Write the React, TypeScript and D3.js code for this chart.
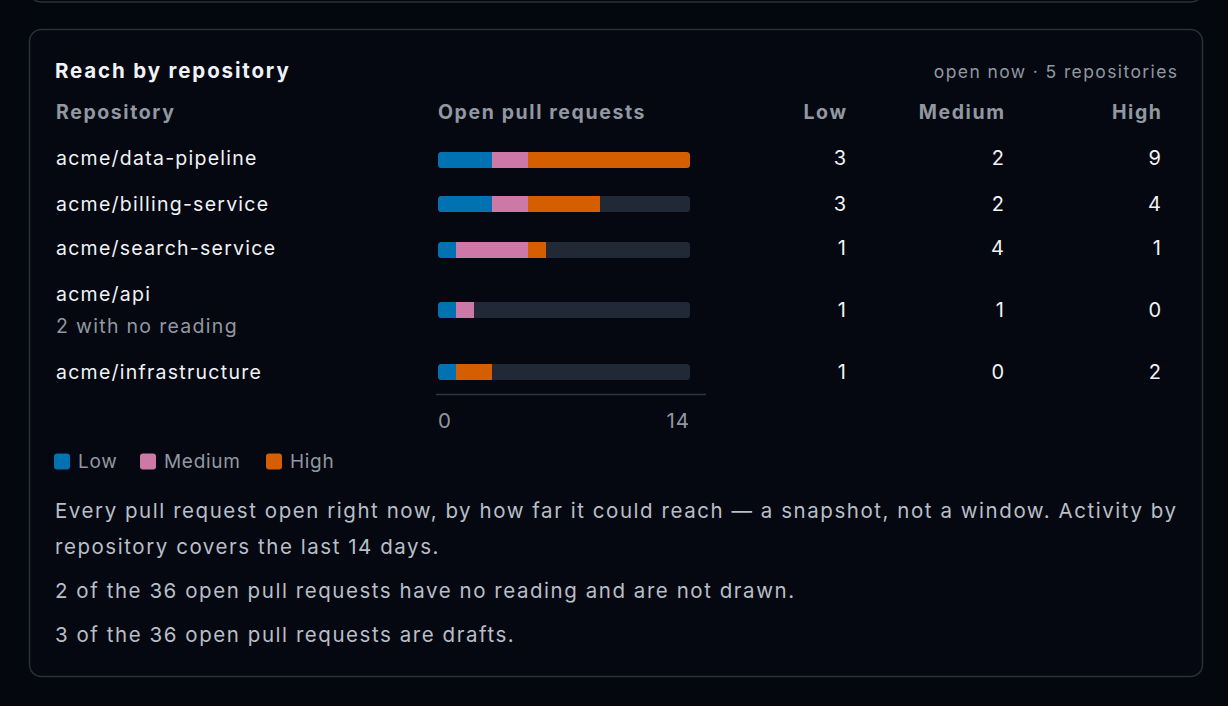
import React from "react";
import * as d3 from "d3";

const repos = ["acme/data-pipeline", "acme/billing-service", "acme/search-service", "acme/api", "acme/infrastructure"];
const notes = ["", "", "", "2 with no reading", ""];
const lowCounts = [3, 3, 1, 1, 1];
const mediumCounts = [2, 2, 4, 1, 0];
const highCounts = [9, 4, 1, 0, 2];
const levels = ["Low", "Medium", "High"];
const levelColors = ["#0072b2", "#cc79a7", "#d55e00"];
const axisTicks = [0, 14];
const paragraphs = [
  ["Every pull request open right now, by how far it could reach — a snapshot, not a window. Activity by", "repository covers the last 14 days."],
  ["2 of the 36 open pull requests have no reading and are not drawn."],
  ["3 of the 36 open pull requests are drafts."],
];

const W = 1228;
const H = 706;
const FONT = "Inter, 'Noto Sans', sans-serif";

export default function App() {
  const x = d3.scaleLinear().domain([0, 14]).range([438, 690]);
  const rowY = [160, 204, 250, 310, 372];
  const labelY = [158, 204, 248, 294, 372];
  const series = [lowCounts, mediumCounts, highCounts];
  const colRight = [846, 1004, 1161];
  const barH = 16;

  const stackData = repos.map((r, i) => ({ repo: r, Low: lowCounts[i], Medium: mediumCounts[i], High: highCounts[i] }));
  const stacked = d3.stack<any>().keys(levels)(stackData);

  const paraLines: { text: string; y: number }[] = [];
  let py = 510;
  paragraphs.forEach((p) => {
    p.forEach((line, j) => {
      paraLines.push({ text: line, y: py });
      py += j < p.length - 1 ? 36 : 44;
    });
  });

  const hdrLS = 1.6;

  return (
    <svg
      width={W}
      height={H}
      style={{ position: "fixed", left: 0, top: 0, display: "block", background: "#04070e" }}
      fontFamily={FONT}
    >
      <rect x={0} y={0} width={W} height={H} fill="#04070e" />
      <rect x={29} y={-40} width={1174} height={42} rx={12} fill="none" stroke="#2a303a" strokeWidth={1.5} />
      <rect x={29.5} y={29.5} width={1173} height={647} rx={12} fill="#050810" stroke="#2a303a" strokeWidth={1.5} />

      <text x={55} y={70} dominantBaseline="central" fill="#f0f3f6" fontSize={20.5} fontWeight={700} letterSpacing={1.85}>
        Reach by repository
      </text>
      <text x={1177 + 1.5} y={71} dominantBaseline="central" textAnchor="end" fill="#9198a1" fontSize={17.5} letterSpacing={1.4}>
        open now · 5 repositories
      </text>

      <text x={56} y={112} dominantBaseline="central" fill="#9198a1" fontSize={19.5} fontWeight={700} letterSpacing={hdrLS}>Repository</text>
      <text x={438} y={112} dominantBaseline="central" fill="#9198a1" fontSize={19.5} fontWeight={700} letterSpacing={hdrLS}>Open pull requests</text>
      {levels.map((l, k) => (
        <text key={l} x={colRight[k] + hdrLS} y={112} dominantBaseline="central" textAnchor="end" fill="#9198a1" fontSize={19.5} fontWeight={700} letterSpacing={hdrLS}>
          {l}
        </text>
      ))}

      {repos.map((r, i) => (
        <g key={r}>
          <text x={56} y={labelY[i]} dominantBaseline="central" fill="#f0f3f6" fontSize={19.5} letterSpacing={1.25}>{r}</text>
          {notes[i] && (
            <text x={56} y={326} dominantBaseline="central" fill="#9198a1" fontSize={19.5} letterSpacing={1.3}>{notes[i]}</text>
          )}
          <clipPath id={`clip${i}`}>
            <rect x={x(0)} y={rowY[i] - barH / 2} width={x(14) - x(0)} height={barH} rx={3.5} />
          </clipPath>
          <g clipPath={`url(#clip${i})`}>
            <rect x={x(0)} y={rowY[i] - barH / 2} width={x(14) - x(0)} height={barH} fill="#212936" />
            {stacked.map((s, k) => (
              <rect
                key={k}
                x={x(s[i][0])}
                y={rowY[i] - barH / 2}
                width={x(s[i][1]) - x(s[i][0])}
                height={barH}
                fill={levelColors[k]}
              />
            ))}
          </g>
          {series.map((vals, k) => (
            <text key={k} x={colRight[k]} y={i === 3 ? 310 : labelY[i]} dominantBaseline="central" textAnchor="end" fill="#f0f3f6" fontSize={20}>
              {vals[i]}
            </text>
          ))}
        </g>
      ))}

      <line x1={436} x2={706} y1={394.5} y2={394.5} stroke="#30363f" strokeWidth={1.5} />
      {axisTicks.map((t, k) => (
        <text key={t} x={x(t)} y={420} dominantBaseline="central" textAnchor={k === 0 ? "start" : "end"} fill="#9198a1" fontSize={20.5} letterSpacing={k === 0 ? 0 : 1}>
          {t}
        </text>
      ))}

      {levels.map((l, k) => {
        const lx = [54, 140, 266][k];
        return (
          <g key={l}>
            <rect x={lx} y={453.5} width={16} height={16} rx={3} fill={levelColors[k]} />
            <text x={lx + 24} y={461} dominantBaseline="central" fill="#9198a1" fontSize={19} letterSpacing={0.7}>{l}</text>
          </g>
        );
      })}

      {paraLines.map((p, i) => (
        <text key={i} x={55} y={p.y} dominantBaseline="central" fill="#b8bfc9" fontSize={20.5} letterSpacing={1.55}>
          {p.text}
        </text>
      ))}
    </svg>
  );
}
